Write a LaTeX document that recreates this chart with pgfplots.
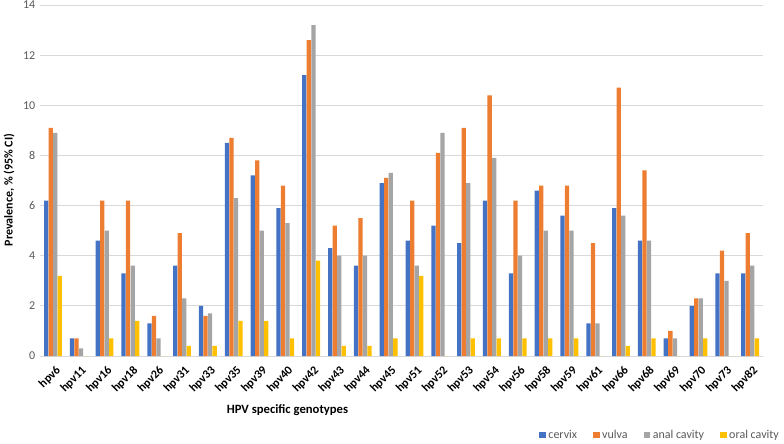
\documentclass[border=0pt]{standalone}
\usepackage{pgfplots}
\usepackage{pgfplotstable}
\pgfplotsset{compat=1.18}
\usepackage{fontspec}
\setmainfont{Carlito}
\definecolor{cA}{HTML}{4472C4}
\definecolor{cB}{HTML}{ED7D31}
\definecolor{cC}{HTML}{A5A5A5}
\definecolor{cD}{HTML}{FFC000}
\definecolor{txt}{HTML}{595959}
\definecolor{gridc}{HTML}{D9D9D9}
\pgfplotstableread{
name c v a o
hpv6 6.2 9.1 8.9 3.2
hpv11 0.7 0.7 0.3 0
hpv16 4.6 6.2 5.0 0.7
hpv18 3.3 6.2 3.6 1.4
hpv26 1.3 1.6 0.7 0
hpv31 3.6 4.9 2.3 0.4
hpv33 2.0 1.6 1.7 0.4
hpv35 8.5 8.7 6.3 1.4
hpv39 7.2 7.8 5.0 1.4
hpv40 5.9 6.8 5.3 0.7
hpv42 11.2 12.6 13.2 3.8
hpv43 4.3 5.2 4.0 0.4
hpv44 3.6 5.5 4.0 0.4
hpv45 6.9 7.1 7.3 0.7
hpv51 4.6 6.2 3.6 3.2
hpv52 5.2 8.1 8.9 0
hpv53 4.5 9.1 6.9 0.7
hpv54 6.2 10.4 7.9 0.7
hpv56 3.3 6.2 4.0 0.7
hpv58 6.6 6.8 5.0 0.7
hpv59 5.6 6.8 5.0 0.7
hpv61 1.3 4.5 1.3 0
hpv66 5.9 10.7 5.6 0.4
hpv68 4.6 7.4 4.6 0.7
hpv69 0.7 1.0 0.7 0
hpv70 2.0 2.3 2.3 0.7
hpv73 3.3 4.2 3.0 0
hpv82 3.3 4.9 3.6 0.7
}\datatab
\begin{document}
\begin{tikzpicture}[x=1pt,y=1pt]
\useasboundingbox (0,0) rectangle (588,332.25);
\begin{axis}[
  at={(30pt,65.25pt)}, anchor=south west,
  scale only axis, width=542.25pt, height=263.25pt,
  xmin=-0.5, xmax=27.5, ymin=0, ymax=14,
  ytick={0,2,...,14},
  xtick={0,...,27},
  xticklabels={hpv6,hpv11,hpv16,hpv18,hpv26,hpv31,hpv33,hpv35,hpv39,hpv40,hpv42,hpv43,hpv44,hpv45,hpv51,hpv52,hpv53,hpv54,hpv56,hpv58,hpv59,hpv61,hpv66,hpv68,hpv69,hpv70,hpv73,hpv82},
  x tick label style={yshift=-5pt, xshift=1.5pt, rotate=45, anchor=north east, font=\bfseries\fontsize{9}{10}\selectfont, text=black, inner sep=1pt},
  y tick label style={font=\fontsize{9}{10}\selectfont, text=txt},
  /pgf/number format/assume math mode=true,
  major tick length=0pt,
  axis lines*=left,
  y axis line style={draw=none},
  x axis line style={draw=gridc, line width=0.7pt},
  ymajorgrids, grid style={draw=gridc, line width=0.6pt},
  bar width=0.165,
  legend style={draw=none, at={(1.026,-0.225)}, anchor=east, font=\fontsize{9}{10}\selectfont, text=txt, legend columns=4, inner sep=0pt,
    /tikz/every even column/.append style={column sep=10pt}},
  legend image code/.code={\fill[#1] (0pt,-2.4pt) rectangle (4.8pt,2.4pt);},
  legend cell align=left,
]
\addplot[ybar, fill=cA, draw=none, bar shift=-0.2625] table[x expr=\coordindex, y=c] {\datatab};
\addplot[ybar, fill=cB, draw=none, bar shift=-0.0875] table[x expr=\coordindex, y=v] {\datatab};
\addplot[ybar, fill=cC, draw=none, bar shift=0.0875] table[x expr=\coordindex, y=a] {\datatab};
\addplot[ybar, fill=cD, draw=none, bar shift=0.2625] table[x expr=\coordindex, y=o] {\datatab};
\legend{cervix, vulva, anal cavity, oral cavity}
\end{axis}
\node[rotate=90, font=\bfseries\fontsize{9}{10}\selectfont, text=black] at (6.75,189.75) {Prevalence, \% (95\% CI)};
\node[font=\bfseries\fontsize{9.5}{10}\selectfont, text=black] at (215.6,24.75) {HPV specific genotypes};
\end{tikzpicture}
\end{document}
